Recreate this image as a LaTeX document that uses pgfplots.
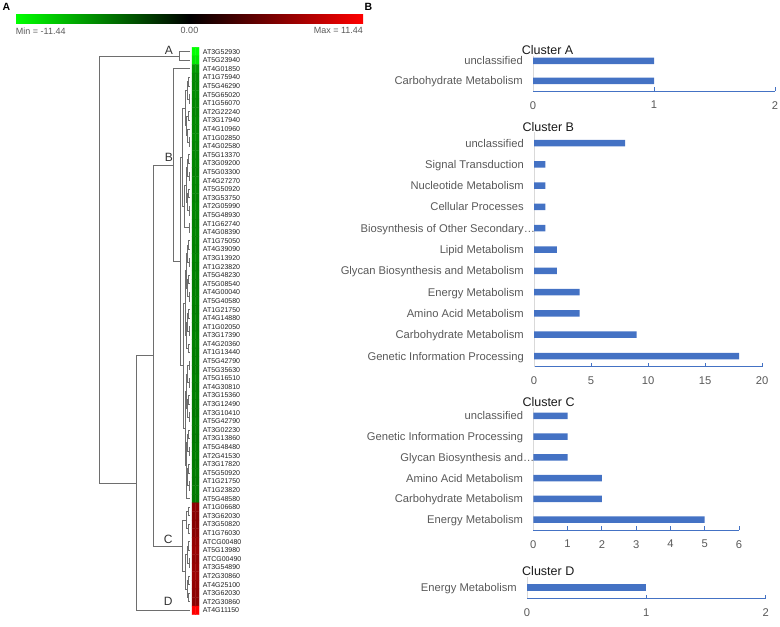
\documentclass[border=0pt]{standalone}
\usepackage{fontspec}
\setmainfont{Liberation Sans}
\usepackage{pgfplots}
\usepackage{pgfplotstable}
\pgfplotsset{compat=1.18}
\definecolor{barblue}{HTML}{4472C4}
\definecolor{axblue}{HTML}{4472C4}
\definecolor{ygrey}{HTML}{D9D9D9}
\definecolor{labgrey}{HTML}{595959}
\definecolor{dendgray}{HTML}{6E6E6E}
\definecolor{titleblack}{HTML}{1A1A1A}
\pgfplotsset{
  colormap={gbr}{rgb255=(0,255,0) rgb255=(0,0,0) rgb255=(255,0,0)},
  every axis/.append style={/pgf/number format/assume math mode=true},
  dend/.style={draw=dendgray, line width=0.7pt, mark=none, forget plot},
  barax/.style={
    scale only axis,
    axis x line*=bottom, axis y line*=left,
    x axis line style={draw=axblue, line width=0.8pt, -},
    y axis line style={draw=ygrey, line width=0.8pt, -},
    enlargelimits=false, xmin=0,
    xtick align=inside, major tick length=3.5pt,
    xtick style={draw=axblue, line width=0.8pt},
    ytick style={draw=none},
    ytick=data,
    tick label style={font=\fontsize{11.2}{13}\selectfont, text=labgrey, inner sep=0pt},
    xticklabel style={yshift=-10pt},
    yticklabel style={xshift=-10pt, text height=8pt, text depth=0pt},
    title style={at={(0,1)}, anchor=base west, font=\fontsize{12.5}{14}\selectfont, text=titleblack, inner sep=0pt, yshift=-5pt},
  },
}
\newcommand{\dn}[5]{\addplot[dend] coordinates {(#1,#2) (#3,#2) (#3,#4) (#5,#4)};}
\pgfplotstableread{
x y c
193.75 1 -11.44
197.25 1 -11.44
193.75 2 -10.3
197.25 2 -10.3
193.75 3 -6.8
197.25 3 -6.8
193.75 4 -6.1
197.25 4 -6.1
193.75 5 -6.0
197.25 5 -6.0
193.75 6 -6.2
197.25 6 -6.2
193.75 7 -6.0
197.25 7 -6.0
193.75 8 -5.9
197.25 8 -5.9
193.75 9 -6.1
197.25 9 -6.1
193.75 10 -6.0
197.25 10 -6.0
193.75 11 -6.2
197.25 11 -6.2
193.75 12 -5.9
197.25 12 -5.9
193.75 13 -5.9
197.25 13 -5.9
193.75 14 -6.0
197.25 14 -6.0
193.75 15 -5.8
197.25 15 -5.8
193.75 16 -6.0
197.25 16 -6.0
193.75 17 -5.9
197.25 17 -5.9
193.75 18 -5.8
197.25 18 -5.8
193.75 19 -6.0
197.25 19 -6.0
193.75 20 -5.9
197.25 20 -5.9
193.75 21 -5.8
197.25 21 -5.8
193.75 22 -5.9
197.25 22 -5.9
193.75 23 -5.8
197.25 23 -5.8
193.75 24 -5.7
197.25 24 -5.7
193.75 25 -5.9
197.25 25 -5.9
193.75 26 -5.7
197.25 26 -5.7
193.75 27 -5.8
197.25 27 -5.8
193.75 28 -5.6
197.25 28 -5.6
193.75 29 -5.7
197.25 29 -5.7
193.75 30 -5.8
197.25 30 -5.8
193.75 31 -5.6
197.25 31 -5.6
193.75 32 -5.7
197.25 32 -5.7
193.75 33 -5.6
197.25 33 -5.6
193.75 34 -5.8
197.25 34 -5.8
193.75 35 -5.7
197.25 35 -5.7
193.75 36 -5.6
197.25 36 -5.6
193.75 37 -5.6
197.25 37 -5.6
193.75 38 -5.5
197.25 38 -5.5
193.75 39 -5.7
197.25 39 -5.7
193.75 40 -5.5
197.25 40 -5.5
193.75 41 -5.6
197.25 41 -5.6
193.75 42 -5.5
197.25 42 -5.5
193.75 43 -5.4
197.25 43 -5.4
193.75 44 -5.6
197.25 44 -5.6
193.75 45 -5.5
197.25 45 -5.5
193.75 46 -5.4
197.25 46 -5.4
193.75 47 -5.5
197.25 47 -5.5
193.75 48 -5.6
197.25 48 -5.6
193.75 49 -5.4
197.25 49 -5.4
193.75 50 -5.5
197.25 50 -5.5
193.75 51 -5.4
197.25 51 -5.4
193.75 52 -5.5
197.25 52 -5.5
193.75 53 -5.4
197.25 53 -5.4
193.75 54 6.3
197.25 54 6.3
193.75 55 6.1
197.25 55 6.1
193.75 56 6.0
197.25 56 6.0
193.75 57 6.2
197.25 57 6.2
193.75 58 6.7
197.25 58 6.7
193.75 59 6.9
197.25 59 6.9
193.75 60 6.5
197.25 60 6.5
193.75 61 6.8
197.25 61 6.8
193.75 62 7.0
197.25 62 7.0
193.75 63 6.6
197.25 63 6.6
193.75 64 6.4
197.25 64 6.4
193.75 65 6.3
197.25 65 6.3
193.75 66 11.44
197.25 66 11.44
}\heat
\begin{document}
\begin{tikzpicture}
\useasboundingbox (0,0) rectangle (780pt,627pt);
% panel letters
\node[anchor=base west, inner sep=0pt, font=\bfseries\fontsize{10.5}{12}\selectfont] at (2.5pt,616.3pt) {A};
\node[anchor=base west, inner sep=0pt, font=\bfseries\fontsize{10.5}{12}\selectfont] at (364.3pt,616.3pt) {B};

% colour scale
\begin{axis}[
  at={(16pt,612pt)}, anchor=north west,
  hide axis, scale only axis, width=347pt, height=9pt,
  xmin=0, xmax=1, ymin=0, ymax=1,
  point meta min=-11.44, point meta max=11.44,
  colorbar horizontal,
  colorbar style={
    at={(parent axis.north west)}, anchor=north west,
    yshift=0.3cm,
    scale only axis, width=347pt, height=9pt,
    axis line style={draw=none},
    xtick={-11.44,0,11.44},
    xticklabels={\rlap{Min = -11.44}, 0.00, \llap{Max = 11.44}},
    xtick style={draw=none}, major tick length=0pt,
    xticklabel style={font=\fontsize{9}{10}\selectfont, text=labgrey, inner sep=0pt, yshift=-3.5pt},
  },
]
\addplot[draw=none, mark=none, forget plot] coordinates {(0,0)};
\end{axis}

% dendrogram + heat map
\begin{axis}[
  at={(90pt,579.7pt)}, anchor=north west,
  scale only axis, width=109pt, height=567.4pt,
  xmin=90, xmax=199, ymin=0.5, ymax=66.5, y dir=reverse,
  clip=false,
  axis line style={draw=none},
  xtick=\empty,
  ytick={1,...,66},
  yticklabels={AT3G52930,AT5G23940,AT4G01850,AT1G75940,AT5G46290,AT5G65020,AT1G56070,AT2G22240,AT3G17940,AT4G10960,AT1G02850,AT4G02580,AT5G13370,AT3G09200,AT5G03300,AT4G27270,AT5G50920,AT3G53750,AT2G05990,AT5G48930,AT1G62740,AT4G08390,AT1G75050,AT4G39090,AT3G13920,AT1G23820,AT5G48230,AT5G08540,AT4G00040,AT5G40580,AT1G21750,AT4G14880,AT1G02050,AT3G17390,AT4G20360,AT1G13440,AT5G42790,AT5G35630,AT5G16510,AT4G30810,AT3G15360,AT3G12490,AT3G10410,AT5G42790,AT3G02230,AT3G13860,AT5G48480,AT2G41530,AT3G17820,AT5G50920,AT1G21750,AT1G23820,AT5G48580,AT1G06680,AT3G62030,AT3G50820,AT1G76030,ATCG00480,AT5G13980,ATCG00490,AT3G54890,AT2G30860,AT4G25100,AT3G62030,AT2G30860,AT4G11150},
  yticklabel pos=right,
  ytick style={draw=none},
  yticklabel style={font=\fontsize{7}{8}\selectfont, text=black!88, inner sep=0pt, xshift=3.7pt, text height=5pt, text depth=0pt},
  point meta min=-11.44, point meta max=11.44,
]
\addplot[matrix plot*, mesh/cols=2, point meta=explicit] table[x=x, y=y, meta=c] {\heat};
% main structure
\dn{190}{1}{179}{2}{190}
\dn{179}{1.5}{99}{51.18}{136}
\dn{153}{36.35}{136}{66}{190}
\dn{173}{14.2}{153}{58.5}{182.7}
\dn{190}{3}{173}{25.41}{180.5}
\dn{182.7}{13.28}{180.5}{37.53}{183.5}
% B1
\dn{185.5}{7.56}{182.7}{19}{184.5}
\dn{187.3}{5.5}{185.5}{9.625}{186.8}
\dn{188.5}{4.5}{187.3}{6.5}{189}
\dn{190}{4}{188.5}{5}{190}
\dn{190}{6}{189}{7}{190}
\dn{188.8}{8.5}{186.8}{10.75}{187.5}
\dn{190}{8}{188.8}{9}{190}
\dn{190}{10}{187.5}{11.5}{189.2}
\dn{190}{11}{189.2}{12}{190}
\dn{186}{16.5}{184.5}{21.5}{188.9}
\dn{187}{14.5}{186}{18.5}{187.6}
\dn{188.7}{13.5}{187}{15.5}{189}
\dn{190}{13}{188.7}{14}{190}
\dn{190}{15}{189}{16}{190}
\dn{188.5}{17.5}{187.6}{19.5}{189.3}
\dn{190}{17}{188.5}{18}{190}
\dn{190}{19}{189.3}{20}{190}
\dn{190}{21}{188.9}{22}{190}
% B2
\dn{185.5}{30.25}{183.5}{44.81}{185}
\dn{186.3}{26.5}{185.5}{34}{186.6}
\dn{187.2}{24.5}{186.3}{28.5}{187.5}
\dn{188.8}{23.5}{187.2}{25.5}{189}
\dn{190}{23}{188.8}{24}{190}
\dn{190}{25}{189}{26}{190}
\dn{188.5}{27.5}{187.5}{29.5}{189.2}
\dn{190}{27}{188.5}{28}{190}
\dn{190}{29}{189.2}{30}{190}
\dn{187}{32.5}{186.6}{35.5}{188.6}
\dn{188.7}{31.5}{187}{33.5}{189}
\dn{190}{31}{188.7}{32}{190}
\dn{190}{33}{189}{34}{190}
\dn{190}{35}{188.6}{36}{190}
\dn{186.2}{40.5}{185}{49.125}{186}
\dn{187.4}{38.5}{186.2}{42.5}{187}
\dn{188.9}{37.5}{187.4}{39.5}{189.1}
\dn{190}{37}{188.9}{38}{190}
\dn{190}{39}{189.1}{40}{190}
\dn{188.6}{41.5}{187}{43.5}{189}
\dn{190}{41}{188.6}{42}{190}
\dn{190}{43}{189}{44}{190}
\dn{187.6}{46.5}{186}{51.75}{186.5}
\dn{188.7}{45.5}{187.6}{47.5}{189.2}
\dn{190}{45}{188.7}{46}{190}
\dn{190}{47}{189.2}{48}{190}
\dn{187.2}{50.5}{186.5}{53}{190}
\dn{188.8}{49.5}{187.2}{51.5}{189}
\dn{190}{49}{188.8}{50}{190}
\dn{190}{51}{189}{52}{190}
% C
\dn{186.5}{55.5}{182.7}{61.5}{185.5}
\dn{188.5}{54.5}{186.5}{56.5}{188}
\dn{190}{54}{188.5}{55}{190}
\dn{190}{56}{188}{57}{190}
\dn{187.3}{59.5}{185.5}{63.5}{187}
\dn{188.8}{58.5}{187.3}{60.5}{189}
\dn{190}{58}{188.8}{59}{190}
\dn{190}{60}{189}{61}{190}
\dn{188.6}{62.5}{187}{64.5}{188.3}
\dn{190}{62}{188.6}{63}{190}
\dn{190}{64}{188.3}{65}{190}
% cluster letters
\node[font=\fontsize{12}{14}\selectfont, text=black!80, inner sep=0pt] at (axis cs:169,0.85) {A};
\node[font=\fontsize{12}{14}\selectfont, text=black!80, inner sep=0pt] at (axis cs:168.8,13.28) {B};
\node[font=\fontsize{12}{14}\selectfont, text=black!80, inner sep=0pt] at (axis cs:168.2,57.79) {C};
\node[font=\fontsize{12}{14}\selectfont, text=black!80, inner sep=0pt] at (axis cs:168.2,64.92) {D};
\end{axis}

% Cluster A
\begin{axis}[barax, at={(533pt,536pt)}, anchor=south west, width=242pt, height=35pt,
  xmax=2, ymin=-0.5, ymax=1.25, xtick={0,1,2},
  yticklabels={Carbohydrate Metabolism,unclassified},
  title={Cluster A}, title style={xshift=-11.3pt}]
\addplot[xbar, fill=barblue, draw=none, bar width=6.5pt] coordinates {(1,0) (1,1)};
\end{axis}

% Cluster B
\begin{axis}[barax, at={(534pt,260.3pt)}, anchor=south west, width=228pt, height=234.3pt,
  xmax=20, ymin=-0.5, ymax=10.5, xtick={0,5,10,15,20},
  yticklabels={Genetic Information Processing,Carbohydrate Metabolism,Amino Acid Metabolism,Energy Metabolism,Glycan Biosynthesis and Metabolism,Lipid Metabolism,Biosynthesis of Other Secondary\rlap{…},Cellular Processes,Nucleotide Metabolism,Signal Transduction,unclassified},
  title={Cluster B}, title style={xshift=-11.6pt}]
\addplot[xbar, fill=barblue, draw=none, bar width=6.5pt] coordinates {(18,0) (9,1) (4,2) (4,3) (2,4) (2,5) (1,6) (1,7) (1,8) (1,9) (8,10)};
\end{axis}

% Cluster C
\begin{axis}[barax, at={(533.3pt,97pt)}, anchor=south west, width=205.7pt, height=122.4pt,
  xmax=6, ymin=-0.5, ymax=5.4, xtick={0,1,2,3,4,5,6},
  yticklabels={Energy Metabolism,Carbohydrate Metabolism,Amino Acid Metabolism,Glycan Biosynthesis and\rlap{…},Genetic Information Processing,unclassified},
  title={Cluster C}, title style={xshift=-11pt}]
\addplot[xbar, fill=barblue, draw=none, bar width=6.5pt] coordinates {(5,0) (2,1) (2,2) (1,3) (1,4) (1,5)};
\end{axis}

% Cluster D
\begin{axis}[barax, at={(527pt,28.7pt)}, anchor=south west, width=238.7pt, height=21.3pt,
  xmax=2, ymin=-0.5, ymax=0.5, xtick={0,1,2},
  yticklabels={Energy Metabolism},
  title={Cluster D}, title style={xshift=-5pt}]
\addplot[xbar, fill=barblue, draw=none, bar width=6.5pt] coordinates {(1,0)};
\end{axis}
\end{tikzpicture}
\end{document}
